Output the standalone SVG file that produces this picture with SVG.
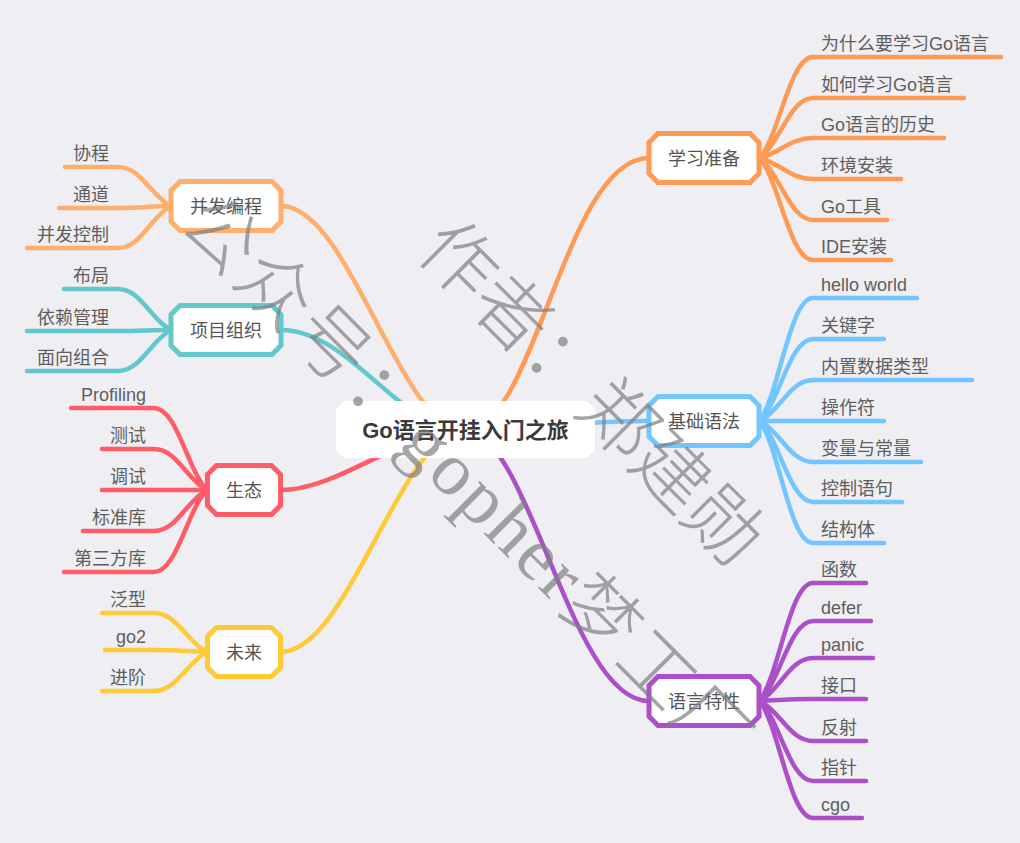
<svg xmlns="http://www.w3.org/2000/svg" xmlns:xlink="http://www.w3.org/1999/xlink" width="1020" height="843" viewBox="0 0 1020 843">
<defs>
<style>
.c{fill:none;stroke-width:4.5;stroke-linecap:round;stroke-linejoin:round}
.or{stroke:#ff9a55}.lo{stroke:#ffae6b}.bl{stroke:#72c5fd}.pu{stroke:#ab50c8}.te{stroke:#62c8cc}.re{stroke:#fe5d68}.ye{stroke:#ffca38}
.box{fill:#fff;stroke-width:5}
.nt{font-family:"Liberation Sans","Noto Sans CJK SC",sans-serif;font-size:18px;fill:#555;text-anchor:middle}
.lt{font-family:"Liberation Sans","Noto Sans CJK SC",sans-serif;font-size:18px;fill:#5e5e5e}
.le{text-anchor:end}
.root{font-family:"Liberation Sans","Noto Sans CJK SC",sans-serif;font-size:22px;font-weight:bold;fill:#3a3a3a;text-anchor:middle}
.wm{font-family:"Liberation Serif","Noto Sans CJK SC",serif;font-size:75px;font-weight:300;fill:#7f7f7f;fill-opacity:0.7}
</style>
<polygon id="octL" points="-46,-24.5 46,-24.5 55,-15.5 55,15.5 46,24.5 -46,24.5 -55,15.5 -55,-15.5"/>
<polygon id="octS" points="-27.5,-24.5 27.5,-24.5 36.5,-15.5 36.5,15.5 27.5,24.5 -27.5,24.5 -36.5,15.5 -36.5,-15.5"/>
</defs>
<rect width="1020" height="843" fill="#eeeef3"/>
<g id="connectors">
<path class="c or" d="M465 431 C535 431 565 158 649 158"/>
<path class="c bl" d="M465 431 C535 431 565 421 649 421"/>
<path class="c pu" d="M465 431 C530 431 570 701 649 701"/>
<path class="c lo" d="M465 431 C400 431 350 206 281 206"/>
<path class="c te" d="M465 431 C400 431 350 330 281 330"/>
<path class="c re" d="M465 431 C400 431 340 490 280 490"/>
<path class="c ye" d="M465 431 C400 431 350 652 280 652"/>
<path class="c or" d="M760 158 C780 133 790 57 813 57 L1001 57"/>
<path class="c or" d="M760 158 C780 143 790 98 813 98 L964 98"/>
<path class="c or" d="M760 158 C780 153 790 138 813 138 L944 138"/>
<path class="c or" d="M760 158 C780 163 790 179 813 179 L901 179"/>
<path class="c or" d="M760 158 C780 174 790 220 813 220 L887 220"/>
<path class="c or" d="M760 158 C780 184 790 260 813 260 L891 260"/>
<path class="c bl" d="M760 421 C780 390 790 298 813 298 L917 298"/>
<path class="c bl" d="M760 421 C780 400 790 339 813 339 L884 339"/>
<path class="c bl" d="M760 421 C780 411 790 380 813 380 L972 380"/>
<path class="c bl" d="M760 421 L884 421"/>
<path class="c bl" d="M760 421 C780 431 790 462 813 462 L921 462"/>
<path class="c bl" d="M760 421 C780 441 790 502 813 502 L902 502"/>
<path class="c bl" d="M760 421 C780 451 790 543 813 543 L884 543"/>
<path class="c pu" d="M760 701 C780 671 790 583 813 583 L866 583"/>
<path class="c pu" d="M760 701 C780 681 790 621 813 621 L871 621"/>
<path class="c pu" d="M760 701 C780 690 790 658 813 658 L873 658"/>
<path class="c pu" d="M760 701 C780 700 790 699 813 699 L866 699"/>
<path class="c pu" d="M760 701 C780 711 790 741 813 741 L866 741"/>
<path class="c pu" d="M760 701 C780 721 790 781 813 781 L866 781"/>
<path class="c pu" d="M760 701 C780 730 790 818 813 818 L862 818"/>
<path class="c lo" d="M171 206 C151 196 141 167 118 167 L65 167"/>
<path class="c lo" d="M171 206 C151 206 141 208 118 208 L59 208"/>
<path class="c lo" d="M171 206 C151 216 141 248 118 248 L27 248"/>
<path class="c te" d="M171 330 C151 320 141 289 118 289 L64 289"/>
<path class="c te" d="M171 330 C151 330 141 331 118 331 L27 331"/>
<path class="c te" d="M171 330 C151 340 141 371 118 371 L27 371"/>
<path class="c re" d="M207 490 C187 469 177 408 154 408 L71 408"/>
<path class="c re" d="M207 490 C187 480 177 449 154 449 L102 449"/>
<path class="c re" d="M207 490 L102 490"/>
<path class="c re" d="M207 490 C187 500 177 531 154 531 L83 531"/>
<path class="c re" d="M207 490 C187 510 177 572 154 572 L64 572"/>
<path class="c ye" d="M207 652 C187 642 177 613 154 613 L102 613"/>
<path class="c ye" d="M207 652 C187 651 177 650 154 650 L105 650"/>
<path class="c ye" d="M207 652 C187 662 177 691 154 691 L102 691"/>
</g>
<g id="root">
<polygon points="344,401 587,401 595,409 595,450 587,458 344,458 336,450 336,409" fill="#fff"/>
<text class="root" x="465.5" y="438">Go语言开挂入门之旅</text>
</g>
<g id="node-xuexi">
<use xlink:href="#octL" class="box" stroke="#ff9a55" transform="translate(704 158)"/>
<text class="nt" x="704" y="164.5">学习准备</text>
<text class="lt" x="821" y="50">为什么要学习Go语言</text>
<text class="lt" x="821" y="91">如何学习Go语言</text>
<text class="lt" x="821" y="131">Go语言的历史</text>
<text class="lt" x="821" y="172">环境安装</text>
<text class="lt" x="821" y="213">Go工具</text>
<text class="lt" x="821" y="253">IDE安装</text>
</g>
<g id="node-jichu">
<use xlink:href="#octL" class="box" stroke="#72c5fd" transform="translate(704 421)"/>
<text class="nt" x="704" y="427.5">基础语法</text>
<text class="lt" x="821" y="291">hello world</text>
<text class="lt" x="821" y="332">关键字</text>
<text class="lt" x="821" y="373">内置数据类型</text>
<text class="lt" x="821" y="414">操作符</text>
<text class="lt" x="821" y="455">变量与常量</text>
<text class="lt" x="821" y="495">控制语句</text>
<text class="lt" x="821" y="536">结构体</text>
</g>
<g id="node-texing">
<use xlink:href="#octL" class="box" stroke="#ab50c8" transform="translate(704 701)"/>
<text class="nt" x="704" y="707.5">语言特性</text>
<text class="lt" x="821" y="576">函数</text>
<text class="lt" x="821" y="614">defer</text>
<text class="lt" x="821" y="651">panic</text>
<text class="lt" x="821" y="692">接口</text>
<text class="lt" x="821" y="734">反射</text>
<text class="lt" x="821" y="774">指针</text>
<text class="lt" x="821" y="811">cgo</text>
</g>
<g id="node-bingfa">
<use xlink:href="#octL" class="box" stroke="#ffae6b" transform="translate(226 206)"/>
<text class="nt" x="226" y="212.5">并发编程</text>
<text class="lt le" x="109" y="160">协程</text>
<text class="lt le" x="109" y="201">通道</text>
<text class="lt le" x="109" y="241">并发控制</text>
</g>
<g id="node-xiangmu">
<use xlink:href="#octL" class="box" stroke="#62c8cc" transform="translate(226 330)"/>
<text class="nt" x="226" y="336.5">项目组织</text>
<text class="lt le" x="109" y="282">布局</text>
<text class="lt le" x="109" y="324">依赖管理</text>
<text class="lt le" x="109" y="364">面向组合</text>
</g>
<g id="node-shengtai">
<use xlink:href="#octS" class="box" stroke="#fe5d68" transform="translate(244 490)"/>
<text class="nt" x="244" y="496.5">生态</text>
<text class="lt le" x="146" y="401">Profiling</text>
<text class="lt le" x="146" y="442">测试</text>
<text class="lt le" x="146" y="483">调试</text>
<text class="lt le" x="146" y="524">标准库</text>
<text class="lt le" x="146" y="565">第三方库</text>
</g>
<g id="node-weilai">
<use xlink:href="#octS" class="box" stroke="#ffca38" transform="translate(244 652)"/>
<text class="nt" x="244" y="658.5">未来</text>
<text class="lt le" x="146" y="606">泛型</text>
<text class="lt le" x="146" y="643">go2</text>
<text class="lt le" x="146" y="684">进阶</text>
</g>
<g id="watermark">
<text class="wm" transform="translate(414 252) rotate(45)">作者：郑建勋</text>
<text class="wm" transform="translate(176 226) rotate(45)" letter-spacing="3">公众号：gopher梦工厂</text>
</g>
</svg>
